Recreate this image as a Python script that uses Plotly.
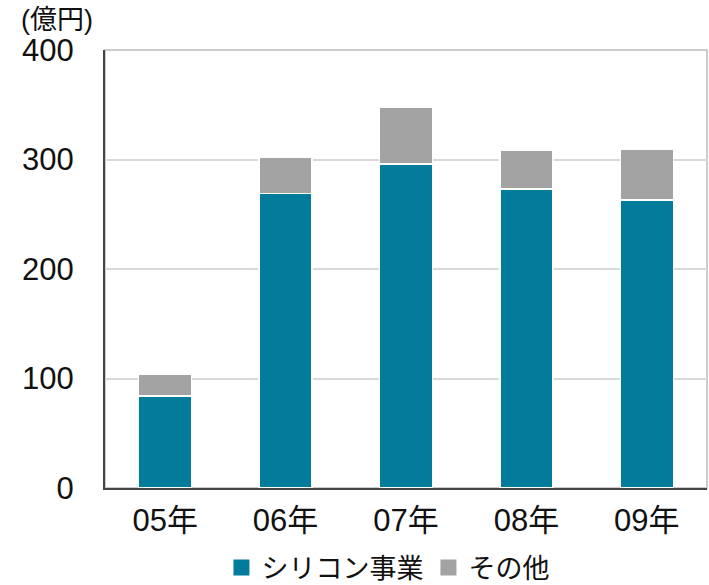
import plotly.graph_objects as go

years = ["05年", "06年", "07年", "08年", "09年"]
silicon = [84, 269, 296, 273, 263]
other = [20, 33, 52, 35, 46]
y_ticks = [0, 100, 200, 300, 400]

teal = "#037b9a"
gray = "#a3a3a3"
font_family = "Liberation Sans, Arial, Noto Sans CJK JP, sans-serif"

series = [("シリコン事業", silicon, teal), ("その他", other, gray)]

fig = go.Figure()
for name, values, color in series:
    fig.add_trace(go.Bar(
        x=years, y=values, name=name, showlegend=False,
        marker=dict(color=color, line=dict(color="white", width=1.5)),
    ))
# legend entries with larger square swatches
for name, values, color in series:
    fig.add_trace(go.Scatter(
        x=[None], y=[None], mode="markers", name=name,
        marker=dict(symbol="square", size=21, color=color),
    ))

fig.update_layout(
    barmode="stack",
    bargap=0.56,
    width=709, height=585,
    margin=dict(l=105, r=2, t=50, b=97),
    paper_bgcolor="white",
    plot_bgcolor="white",
    font=dict(family=font_family, size=31, color="#111111"),
    legend=dict(
        orientation="h", x=0.47, xanchor="center",
        yref="container", y=0.029, yanchor="middle",
        font=dict(size=27), itemwidth=30, traceorder="normal",
    ),
    xaxis=dict(
        showline=True, linecolor="#444444", linewidth=2,
        ticks="", tickfont=dict(size=31), ticklabelstandoff=4,
    ),
    yaxis=dict(
        range=[0, 400], tickvals=y_ticks,
        showline=True, linecolor="#444444", linewidth=2,
        showgrid=True, gridcolor="#d9d9d9", gridwidth=2,
        ticks="", tickfont=dict(size=31), ticklabelstandoff=23,
        zeroline=False,
    ),
    shapes=[dict(
        type="rect", xref="paper", yref="paper", x0=0, x1=1, y0=0, y1=1,
        line=dict(color="#cccccc", width=2), layer="below",
    )],
    annotations=[dict(
        text="(億円)", xref="paper", yref="paper", x=-0.143, y=1.068,
        xanchor="left", yanchor="middle", showarrow=False,
        font=dict(size=27, family=font_family),
    )],
)

fig.write_html("out.html")
